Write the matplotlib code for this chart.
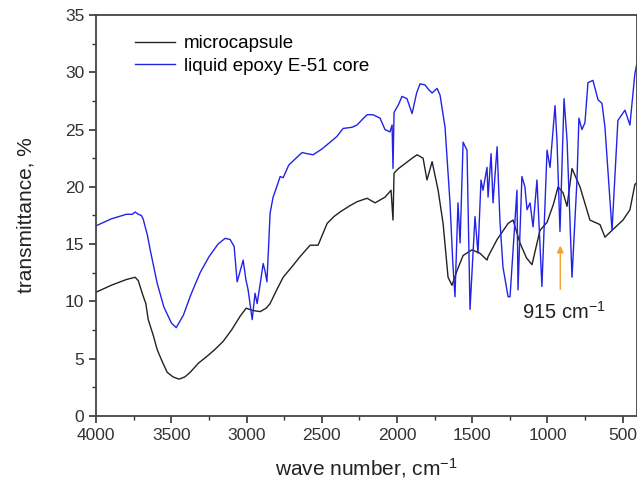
import numpy as np
import matplotlib.pyplot as plt
from matplotlib.ticker import MultipleLocator

blue_wn = [4000, 3950, 3900, 3850, 3800, 3760, 3741, 3720, 3700, 3688, 3660, 3641,
           3595, 3550, 3500, 3468, 3420, 3370, 3309, 3250, 3190, 3143, 3110, 3083,
           3063, 3050, 3023, 3005, 2990, 2963, 2944, 2930, 2910, 2890, 2877, 2865,
           2855, 2844, 2824, 2800, 2777, 2757, 2720, 2664, 2631, 2600, 2558, 2500,
           2445, 2400, 2359, 2300, 2266, 2230, 2199, 2160, 2113, 2080, 2047, 2033,
           2027, 2020, 1990, 1967, 1934, 1900, 1870, 1847, 1814, 1790, 1767, 1734,
           1714, 1681, 1648, 1630, 1615, 1595, 1581, 1561, 1535, 1515, 1482, 1462,
           1442, 1429, 1402, 1395, 1375, 1362, 1335, 1316, 1296, 1262, 1249, 1203,
           1196, 1170, 1150, 1136, 1116, 1096, 1070, 1037, 1003, 983, 950, 937,
           917, 890, 870, 837, 804, 791, 771, 751, 731, 698, 664, 638, 618, 571,
           532, 485, 452, 419, 405]
blue_t = [16.6, 16.9, 17.2, 17.4, 17.6, 17.6, 17.8, 17.6, 17.5, 17.2, 15.8, 14.5,
          11.6, 9.5, 8.1, 7.7, 8.8, 10.6, 12.5, 13.9, 15.0, 15.5, 15.4, 14.8,
          11.7, 12.3, 13.6, 11.9, 11.0, 8.4, 10.7, 9.8, 11.5, 13.3, 12.6, 11.7,
          14.5, 17.7, 19.1, 20.0, 20.9, 20.8, 21.9, 22.6, 23.0, 22.9, 22.8, 23.3,
          23.9, 24.4, 25.1, 25.2, 25.4, 25.9, 26.3, 26.3, 26.0, 25.0, 24.8, 25.4,
          21.6, 26.5, 27.2, 27.9, 27.7, 26.4, 28.2, 29.0, 28.9, 28.5, 28.2, 28.6,
          28.0, 25.2, 18.6, 13.5, 10.4, 18.6, 15.1, 23.9, 23.2, 9.3, 17.4, 14.2,
          20.6, 19.7, 21.7, 19.1, 22.9, 18.6, 23.5, 17.0, 13.0, 10.4, 10.4, 19.7,
          11.0, 20.9, 20.0, 18.0, 18.6, 16.5, 20.6, 11.3, 23.2, 21.7, 27.1, 24.1,
          16.1, 27.7, 24.1, 12.1, 20.6, 26.0, 25.0, 25.6, 29.1, 29.3, 27.6, 27.3, 25.2, 16.2,
          25.8, 26.7, 25.4, 29.9, 30.8]

black_wn = [4000, 3900, 3800, 3741, 3720, 3694, 3670, 3654, 3620, 3595, 3560, 3528,
            3490, 3449, 3410, 3375, 3320, 3263, 3210, 3156, 3100, 3043, 3003, 2960,
            2910, 2870, 2844, 2800, 2757, 2700, 2645, 2578, 2525, 2465, 2420, 2379,
            2320, 2266, 2199, 2146, 2080, 2040, 2027, 2020, 1990, 1960, 1900, 1867,
            1827, 1801, 1767, 1727, 1694, 1661, 1635, 1601, 1561, 1502, 1449, 1402,
            1395, 1335, 1262, 1229, 1183, 1140, 1103, 1050, 1003, 960, 930, 897,
            870, 837, 784, 718, 651, 618, 571, 498, 452, 419, 405]
black_t = [10.8, 11.4, 11.9, 12.1, 11.8, 10.7, 9.8, 8.4, 7.0, 5.8, 4.7, 3.8,
           3.4, 3.2, 3.4, 3.8, 4.6, 5.2, 5.8, 6.5, 7.5, 8.7, 9.4, 9.2,
           9.1, 9.4, 9.8, 11.0, 12.1, 13.0, 13.9, 14.9, 14.9, 16.8, 17.4, 17.8,
           18.3, 18.7, 19.0, 18.6, 19.1, 19.7, 17.1, 21.2, 21.6, 21.9, 22.5, 22.8,
           22.5, 20.6, 22.2, 19.7, 16.8, 12.1, 11.4, 12.7, 14.0, 14.5, 14.2, 13.6,
           13.9, 15.4, 16.8, 17.1, 15.1, 13.8, 13.2, 16.2, 16.9, 18.5, 20.0, 19.5,
           18.3, 21.6, 20.0, 17.1, 16.7, 15.6, 16.2, 17.1, 18.0, 20.2, 20.4]

peak_wn = 915
peak_label = '915 cm$^{-1}$'

plt.rcParams['font.family'] = ['Liberation Sans', 'DejaVu Sans']
plt.rcParams['mathtext.fontset'] = 'custom'
plt.rcParams['mathtext.rm'] = 'Liberation Sans'
plt.rcParams['mathtext.it'] = 'Liberation Sans'
plt.rcParams['mathtext.default'] = 'rm'

fig = plt.figure(figsize=(6.37, 4.88), dpi=100)
ax = fig.add_axes([0.151, 0.148, 0.849, 0.821])

ax.plot(black_wn, black_t, color='#222222', lw=1.0, label='microcapsule')
ax.plot(blue_wn, blue_t, color='#2323e8', lw=1.0, label='liquid epoxy E-51 core')

# marker arrow for the epoxy band
ax.annotate('', xy=(peak_wn, 15.1), xytext=(peak_wn, 10.8),
            arrowprops=dict(arrowstyle='-|>', color='#f5a030', lw=1.0,
                            mutation_scale=10))
ax.text(890, 9.1, peak_label, fontsize=14.5, color='#222222',
        ha='center', va='center')

ax.set_xlim(4000, 405)
ax.set_ylim(0, 35)
ax.xaxis.set_major_locator(MultipleLocator(500))
ax.xaxis.set_minor_locator(MultipleLocator(250))
ax.yaxis.set_major_locator(MultipleLocator(5))
ax.yaxis.set_minor_locator(MultipleLocator(2.5))
ax.tick_params(which='both', direction='out', colors='#333333', labelsize=12.5)
ax.tick_params(which='major', length=5, width=1.2)
ax.tick_params(which='minor', length=3, width=1.0)

for side in ['top', 'right', 'bottom', 'left']:
    ax.spines[side].set_linewidth(1.3)
    ax.spines[side].set_color('#444444')

ax.set_xlabel('wave number, cm$^{-1}$', fontsize=15, color='#222222', labelpad=10)
ax.set_ylabel('transmittance, %', fontsize=15, color='#222222', labelpad=21)

ax.legend(loc='upper left', bbox_to_anchor=(0.072, 0.95), frameon=False,
          fontsize=13.5, handlelength=2.1, handletextpad=0.5,
          labelspacing=0.3, borderpad=0, borderaxespad=0)

plt.savefig('out.png', dpi=100)
